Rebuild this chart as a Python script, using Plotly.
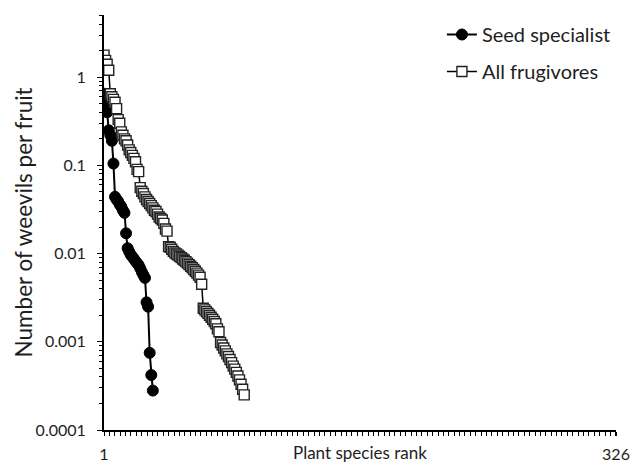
import plotly.graph_objects as go

# Seed specialist: rank and weevils per fruit
seed_rank = list(range(1, 33))
seed_vals = [0.65, 0.52, 0.40, 0.25, 0.22, 0.19, 0.105, 0.044, 0.041, 0.039,
             0.036, 0.034, 0.031, 0.029, 0.017, 0.0115, 0.0105, 0.0097, 0.0092, 0.0087,
             0.0082, 0.0078, 0.0074, 0.0068, 0.0062, 0.0057, 0.0053, 0.0028, 0.0025, 0.00075,
             0.00042, 0.00028]

# All frugivores
frug_rank = list(range(1, 91))
frug_vals = [1.78, 1.55, 1.40, 1.20, 0.65, 0.60, 0.56, 0.52, 0.44, 0.33,
             0.30, 0.24, 0.22, 0.20, 0.19, 0.17, 0.15, 0.14, 0.13, 0.12,
             0.11, 0.090, 0.085, 0.056, 0.051, 0.048, 0.044, 0.041, 0.039, 0.037,
             0.035, 0.033, 0.031, 0.030, 0.028, 0.026, 0.025, 0.024, 0.022, 0.019,
             0.018, 0.012, 0.0118, 0.0112, 0.0106, 0.0102, 0.0099, 0.0096, 0.0093, 0.0090,
             0.0087, 0.0084, 0.0081, 0.0078, 0.0075, 0.0072, 0.0069, 0.0066, 0.0063, 0.0060,
             0.0057, 0.0054, 0.0045, 0.0024, 0.0023, 0.0022, 0.0021, 0.0020, 0.0019, 0.0018,
             0.0017, 0.0016, 0.0014, 0.0013, 0.00098, 0.00092, 0.00085, 0.00079, 0.00073, 0.00068,
             0.00063, 0.00058, 0.00053, 0.00049, 0.00045, 0.00041, 0.00037, 0.00033, 0.00029, 0.00025]

y_tickvals = [0.0001, 0.001, 0.01, 0.1, 1]
y_ticktext = ["0.0001", "0.001", "0.01", "0.1", "1"]
x_tickvals = [1, 326]
x_ticktext = ["1", "326"]

FONT = "Lato, 'Open Sans', sans-serif"
TXT = "#1e1e1e"

minor_y = [m * 10.0 ** e for e in range(-4, 1) for m in range(2, 10)]

fig = go.Figure()
fig.add_trace(go.Scatter(
    x=seed_rank, y=seed_vals, mode="lines+markers", name="Seed specialist",
    line=dict(color="black", width=2),
    marker=dict(symbol="circle", size=11, color="black", line=dict(color="black", width=1)),
    legendgroup="a",
))
fig.add_trace(go.Scatter(
    x=frug_rank, y=frug_vals, mode="lines+markers", name="All frugivores",
    line=dict(color="black", width=1.5),
    marker=dict(symbol="square", size=10, color="white", line=dict(color="#222", width=1.4)),
    legendgroup="b",
))

fig.update_layout(
    width=633, height=464,
    margin=dict(l=104, r=17, t=15, b=34),
    paper_bgcolor="white", plot_bgcolor="white",
    font=dict(family=FONT, color=TXT, size=16),
    showlegend=True,
    legend=dict(x=0.66, y=1.0, xanchor="left", yanchor="top",
                font=dict(size=20, family=FONT, color=TXT),
                tracegroupgap=8, bgcolor="rgba(0,0,0,0)"),
    xaxis=dict(range=[1, 326], showline=True, linecolor="black", linewidth=2,
               showgrid=False, zeroline=False, automargin=False,
               tickmode="array", tickvals=x_tickvals, ticktext=x_ticktext,
               ticks="outside", ticklen=4, tickcolor="black", tickwidth=1,
               ticklabelstandoff=5, tickfont=dict(size=16, color=TXT),
               minor=dict(ticks="outside", ticklen=4, dtick=3.42, tick0=1,
                          tickcolor="black", tickwidth=1)),
    yaxis=dict(type="log", range=[-4, 0.705], showline=True, linecolor="black",
               linewidth=2, showgrid=False, zeroline=False, automargin=False,
               tickmode="array", tickvals=y_tickvals, ticktext=y_ticktext,
               ticks="outside", ticklen=5, tickcolor="black", tickwidth=1,
               ticklabelstandoff=8, tickfont=dict(size=16, color=TXT),
               minor=dict(ticks="outside", ticklen=3, tickvals=minor_y,
                          tickcolor="black", tickwidth=1)),
    annotations=[
        dict(text="Number of weevils per fruit", xref="paper", yref="paper",
             x=0, y=0.5, xshift=-81, textangle=-90, showarrow=False,
             xanchor="center", yanchor="middle", font=dict(size=22.5, family=FONT, color=TXT)),
        dict(text="Plant species rank", xref="paper", yref="paper",
             x=0.5, y=0, yshift=-22, showarrow=False,
             xanchor="center", yanchor="middle", font=dict(size=17, family=FONT, color=TXT)),
    ],
)

fig.write_html("out.html", config={"displayModeBar": False},
               post_script="document.body.style.margin='0';")
